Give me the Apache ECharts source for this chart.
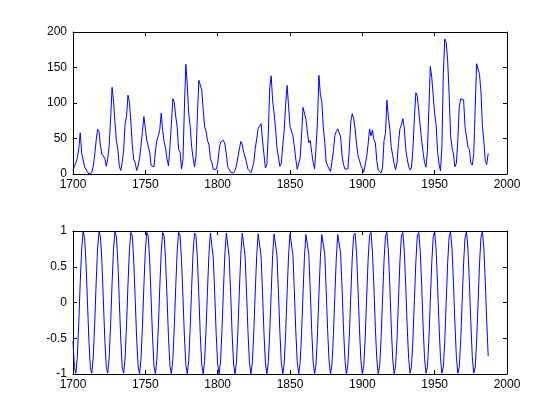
<!DOCTYPE html>
<html>
<head>
<meta charset="utf-8">
<script src="https://cdn.jsdelivr.net/npm/echarts@6/dist/echarts.min.js"></script>
<style>
html,body{margin:0;padding:0;background:#fff;}
#chart{width:560px;height:420px;}
</style>
</head>
<body>
<div id="chart"></div>
<script>
const firstYear = 1700;
const sunspots = [
5,11,16,23,36,58,29,20,10,8,3,0,0,2,11,27,47,63,60,39,
28,26,22,11,21,40,78,122,103,73,47,35,11,5,16,34,70,81,111,101,
73,40,20,16,5,11,22,40,60,80.9,83.4,47.7,47.8,30.7,12.2,9.6,10.2,32.4,47.6,54.0,
62.9,85.9,61.2,45.1,36.4,20.9,11.4,37.8,69.8,106.1,100.8,81.6,66.5,34.8,30.6,7.0,19.8,92.5,154.4,125.9,
84.8,68.1,38.5,22.8,10.2,24.1,82.9,132.0,130.9,118.1,89.9,66.6,60.0,46.9,41.0,21.3,16.0,6.4,4.1,6.8,
14.5,34.0,45.0,43.1,47.5,42.2,28.1,10.1,8.1,2.5,0.0,1.4,5.0,12.2,13.9,35.4,45.8,41.1,30.1,23.9,
15.6,6.6,4.0,1.8,8.5,16.6,36.3,49.6,64.2,67.0,70.9,47.8,27.5,8.5,13.2,56.9,121.5,138.3,103.2,85.7,
64.6,36.7,24.2,10.7,15.0,40.1,61.5,98.5,124.7,96.3,66.6,64.5,54.1,39.0,20.6,6.7,4.3,22.7,54.8,93.8,
95.8,77.2,59.1,44.0,47.0,30.5,16.3,7.3,37.6,74.0,139.0,111.2,101.6,66.2,44.7,17.0,11.3,12.4,3.4,6.0,
32.3,54.3,59.7,63.7,63.5,52.2,25.4,13.1,6.8,6.3,7.1,35.6,73.0,85.1,78.0,64.0,41.8,26.2,26.7,12.1,
9.5,2.7,5.0,24.4,42.0,63.5,53.8,62.0,48.5,43.9,18.6,5.7,3.6,1.4,9.6,47.4,57.1,103.9,80.6,63.6,
37.6,26.1,14.2,5.8,16.7,44.3,63.9,69.0,77.8,64.9,35.7,21.2,11.1,5.7,8.7,36.1,79.7,114.4,109.6,88.8,
67.8,47.5,30.6,16.3,9.6,33.2,92.6,151.6,136.3,134.7,83.9,69.4,31.5,13.9,4.4,38.0,141.7,190.2,184.8,159.0,
112.3,53.9,37.5,27.9,10.2,15.1,47.0,93.8,105.9,105.5,104.5,66.6,68.9,38.0,34.5,15.5,12.6,27.5,92.5,155.4,
154.6,140.4,115.9,66.6,45.9,17.9,13.4,29.2
];
const cycle = [
-0.54,-0.91,-0.99,-0.76,-0.28,0.28,0.75,0.99,0.91,0.55,0.01,-0.53,-0.91,-0.99,-0.76,-0.30,0.27,0.75,0.99,0.92,
0.56,0.02,-0.52,-0.90,-0.99,-0.77,-0.31,0.26,0.74,0.99,0.92,0.57,0.03,-0.51,-0.90,-0.99,-0.78,-0.32,0.25,0.73,
0.98,0.93,0.58,0.04,-0.50,-0.89,-1.00,-0.79,-0.33,0.23,0.72,0.98,0.93,0.59,0.05,-0.49,-0.89,-1.00,-0.79,-0.34,
0.22,0.71,0.98,0.93,0.59,0.07,-0.48,-0.88,-1.00,-0.80,-0.35,0.21,0.71,0.98,0.94,0.60,0.08,-0.47,-0.87,-1.00,
-0.81,-0.36,0.20,0.70,0.97,0.94,0.61,0.09,-0.46,-0.87,-1.00,-0.81,-0.37,0.19,0.69,0.97,0.95,0.62,0.10,-0.45,
-0.86,-1.00,-0.82,-0.38,0.18,0.68,0.97,0.95,0.63,0.11,-0.44,-0.86,-1.00,-0.83,-0.39,0.17,0.67,0.97,0.95,0.64,
0.12,-0.43,-0.85,-1.00,-0.83,-0.40,0.16,0.66,0.96,0.96,0.65,0.14,-0.42,-0.84,-1.00,-0.84,-0.41,0.14,0.66,0.96,
0.96,0.66,0.15,-0.41,-0.84,-1.00,-0.85,-0.42,0.13,0.65,0.96,0.96,0.67,0.16,-0.40,-0.83,-1.00,-0.85,-0.43,0.12,
0.64,0.95,0.97,0.67,0.17,-0.39,-0.83,-1.00,-0.86,-0.44,0.11,0.63,0.95,0.97,0.68,0.18,-0.38,-0.82,-1.00,-0.86,
-0.46,0.10,0.62,0.95,0.97,0.69,0.19,-0.37,-0.81,-1.00,-0.87,-0.47,0.09,0.61,0.94,0.97,0.70,0.20,-0.36,-0.81,
-1.00,-0.88,-0.48,0.08,0.60,0.94,0.98,0.71,0.21,-0.35,-0.80,-1.00,-0.88,-0.49,0.06,0.59,0.93,0.98,0.72,0.23,
-0.34,-0.79,-1.00,-0.89,-0.50,0.05,0.58,0.93,0.98,0.72,0.24,-0.33,-0.78,-0.99,-0.89,-0.51,0.04,0.57,0.93,0.98,
0.73,0.25,-0.32,-0.78,-0.99,-0.90,-0.52,0.03,0.56,0.92,0.99,0.74,0.26,-0.30,-0.77,-0.99,-0.90,-0.53,0.02,0.56,
0.92,0.99,0.75,0.27,-0.29,-0.76,-0.99,-0.91,-0.53,0.01,0.55,0.91,0.99,0.75,0.28,-0.28,-0.76,-0.99,-0.91,-0.54,
-0.01,0.54,0.91,0.99,0.76,0.29,-0.27,-0.75
];
const xTicks = [1700, 1750, 1800, 1850, 1900, 1950, 2000];
const topTicks = [0, 50, 100, 150, 200];
const bottomTicks = [-1, -0.5, 0, 0.5, 1];

const years = sunspots.map((_, i) => firstYear + i);
const pairs = (vals) => vals.map((v, i) => [years[i], v]);

const font = {color: '#000', fontSize: 12, fontFamily: 'Liberation Sans, Arial, Helvetica, sans-serif'};
const axisLine = {show: true, onZero: false, lineStyle: {color: '#000', width: 1}};
const tick = {show: true, inside: true, length: 4, lineStyle: {color: '#000', width: 1}};
const plain = (v) => String(v);

function xAx(gridIndex, position, showLabel) {
  return {
    type: 'value', gridIndex, position,
    min: xTicks[0], max: xTicks[xTicks.length - 1], interval: xTicks[1] - xTicks[0],
    axisLine, axisTick: tick, splitLine: {show: false},
    axisLabel: Object.assign({show: showLabel, margin: 5, formatter: plain}, font)
  };
}
function yAx(gridIndex, position, showLabel, ticks) {
  return {
    type: 'value', gridIndex, position,
    min: ticks[0], max: ticks[ticks.length - 1], interval: ticks[1] - ticks[0],
    axisLine, axisTick: tick, splitLine: {show: false},
    axisLabel: Object.assign({show: showLabel, margin: 6, formatter: plain}, font)
  };
}

const chart = echarts.init(document.getElementById('chart'), null, {renderer: 'canvas'});
chart.setOption({
  animation: false,
  backgroundColor: '#fff',
  grid: [
    {left: 73, right: 53, top: 32, height: 142},
    {left: 73, right: 53, top: 231, height: 143}
  ],
  xAxis: [xAx(0, 'bottom', true), xAx(0, 'top', false), xAx(1, 'bottom', true), xAx(1, 'top', false)],
  yAxis: [yAx(0, 'left', true, topTicks), yAx(0, 'right', false, topTicks), yAx(1, 'left', true, bottomTicks), yAx(1, 'right', false, bottomTicks)],
  series: [
    {type: 'line', xAxisIndex: 0, yAxisIndex: 0, data: pairs(sunspots), showSymbol: false, symbol: 'none',
     lineStyle: {color: '#0000ff', width: 1}, itemStyle: {color: '#0000ff'}},
    {type: 'line', xAxisIndex: 2, yAxisIndex: 2, data: pairs(cycle), showSymbol: false, symbol: 'none',
     lineStyle: {color: '#0000ff', width: 1}, itemStyle: {color: '#0000ff'}}
  ]
});
</script>
</body>
</html>
